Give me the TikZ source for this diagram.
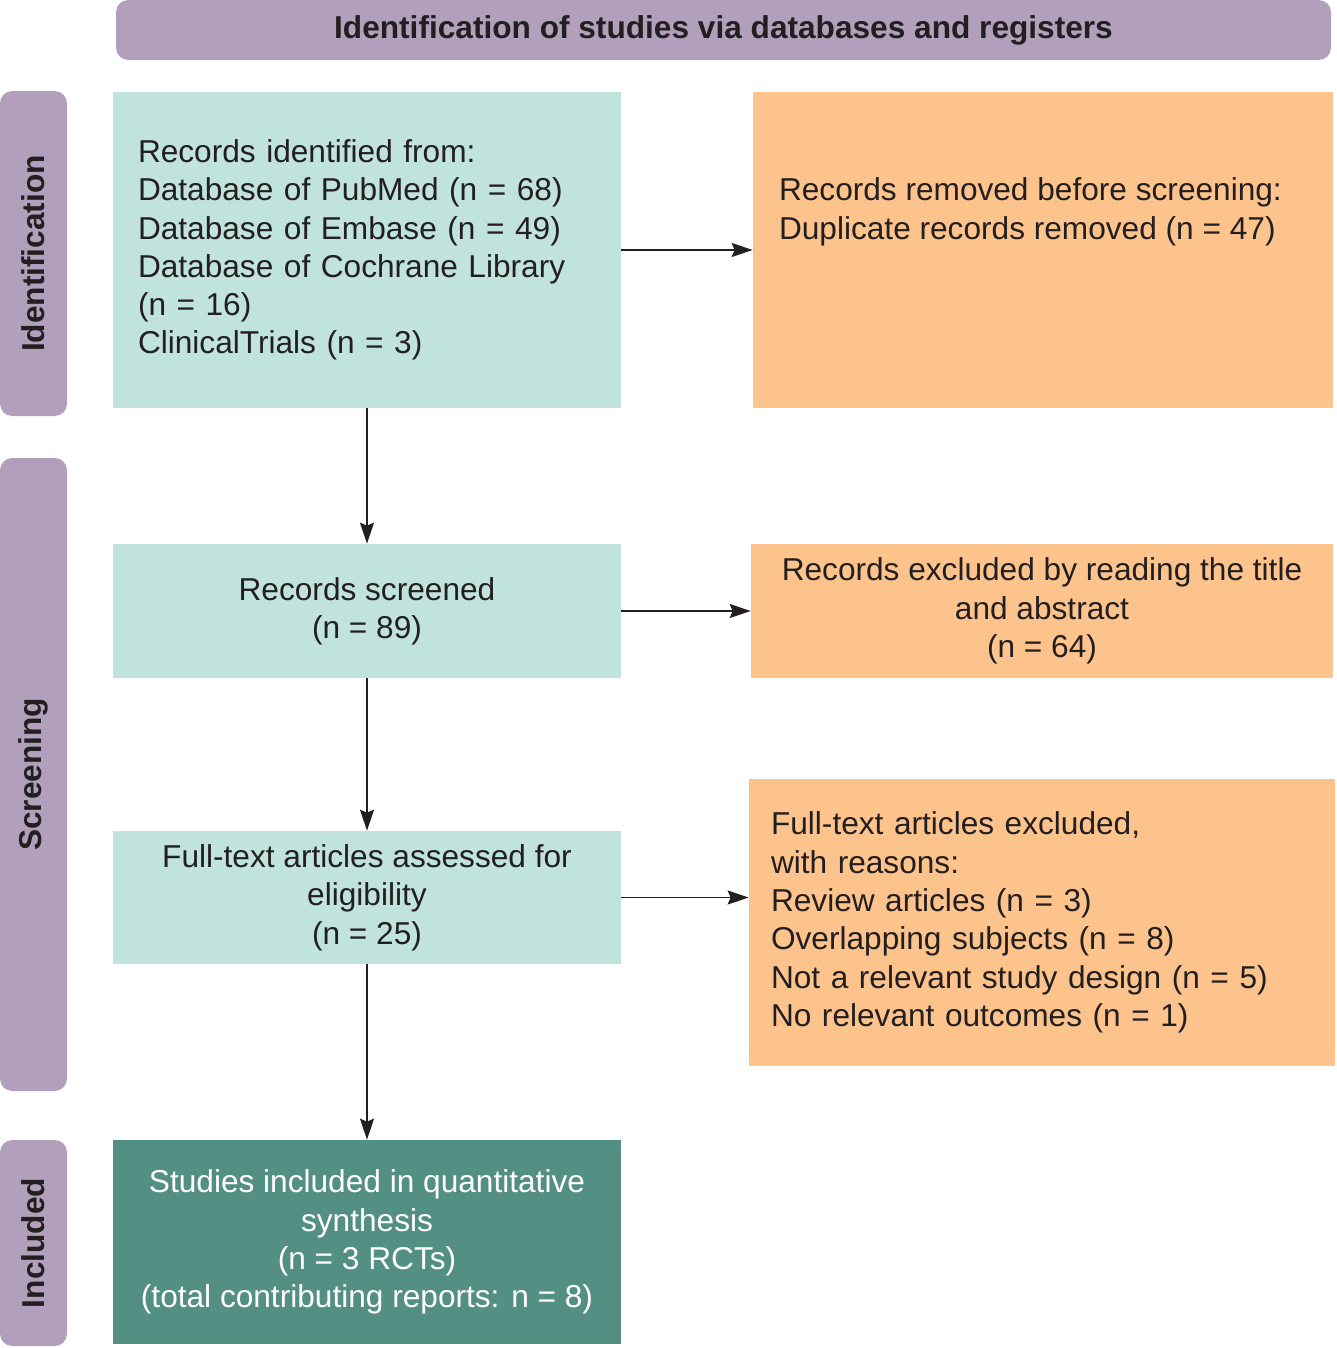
\documentclass[tikz,border=0pt]{standalone}
\usepackage{fontspec}
\setmainfont{Liberation Sans}
\usepackage{tikz}
\usetikzlibrary{arrows.meta, positioning}

\definecolor{phasepurple}{HTML}{B29FBB}
\definecolor{recteal}{HTML}{C0E3DC}
\definecolor{exclorange}{HTML}{FCC48C}
\definecolor{inclgreen}{HTML}{548F84}
\definecolor{inkdark}{HTML}{231F20}

\begin{document}
\begin{tikzpicture}[
  font=\fontsize{18}{21.8}\selectfont,
  titlebar/.style={
    fill=phasepurple, rounded corners=7pt, inner sep=0pt,
    minimum width=24.3cm, minimum height=1.2cm,
    font=\fontsize{18}{21.8}\selectfont\bfseries, text=inkdark
  },
  phase/.style={
    fill=phasepurple, rounded corners=7pt, inner sep=0pt,
    rotate=90, minimum height=1.34cm,
    font=\fontsize{18}{21.8}\selectfont\bfseries, text=inkdark
  },
  recbox/.style={
    fill=recteal, inner xsep=0.3cm, inner ysep=0.2cm,
    minimum width=10.16cm, text=inkdark
  },
  exclbox/.style={
    fill=exclorange, inner xsep=0.3cm, inner ysep=0.2cm, text=inkdark
  },
  inclbox/.style={
    fill=inclgreen, inner xsep=0.3cm, inner ysep=0.2cm,
    minimum width=10.16cm, text=white
  },
  link/.style={
    -{Stealth[length=0.42cm, width=0.28cm, inset=0.06cm]},
    line width=1.1pt, draw=inkdark
  }
]
  \useasboundingbox (0,0) rectangle (26.72,-26.96);

  % Header and phase bars
  \node[titlebar] (title) at (14.47,-0.6) {Identification of studies via databases and registers};
  \node[phase, minimum width=6.5cm] (identification) at (0.67,-5.07) {Identification};
  \node[phase, minimum width=12.66cm] (screening) at (0.67,-15.49) {Screening};
  \node[phase, minimum width=4.12cm] (included) at (0.67,-24.86) {Included};

  % Main column
  \node[recbox, align=left, text width=9.16cm, inner xsep=0.5cm, minimum height=6.32cm] (identified) at (7.34,-5.0)
    {Records identified from:\\Database of PubMed (n = 68)\\Database of Embase (n = 49)\\Database of Cochrane Library\\(n = 16)\\ClinicalTrials (n = 3)};
  \node[recbox, align=center, minimum height=2.68cm] (screened) at (7.34,-12.22)
    {Records screened\\(n = 89)};
  \node[recbox, align=center, minimum height=2.66cm] (fulltext) at (7.34,-17.95)
    {Full-text articles assessed for\\eligibility\\(n = 25)};
  \node[inclbox, align=center, minimum height=4.08cm] (studies) at (7.34,-24.84)
    {Studies included in quantitative\\synthesis\\(n = 3 RCTs)\\(total contributing reports: n = 8)};

  % Exclusions
  \node[exclbox, inner xsep=0.52cm, inner ysep=1.72cm] (removed) at (20.86,-5.0)
    {\parbox[c][2.88cm][t]{10.56cm}{\raggedright Records removed before screening:\\Duplicate records removed (n = 47)}};
  \node[exclbox, align=center, minimum width=11.64cm, minimum height=2.68cm] (abstract) at (20.84,-12.22)
    {Records excluded by reading the title\\and abstract\\(n = 64)};
  \node[exclbox, align=left, text width=10.84cm, inner xsep=0.44cm, minimum height=5.74cm] (reasons) at (20.84,-18.45)
    {Full-text articles excluded,\\with reasons:\\Review articles (n = 3)\\Overlapping subjects (n = 8)\\Not a relevant study design (n = 5)\\No relevant outcomes (n = 1)};

  \draw[link] (identified) -- (removed);
  \draw[link] (screened) -- (abstract);
  \draw[link] (fulltext.east) -- (fulltext.east -| reasons.west);
  \draw[link] (identified) -- (screened);
  \draw[link] (screened) -- (fulltext);
  \draw[link] (fulltext) -- (studies);

\end{tikzpicture}
\end{document}
